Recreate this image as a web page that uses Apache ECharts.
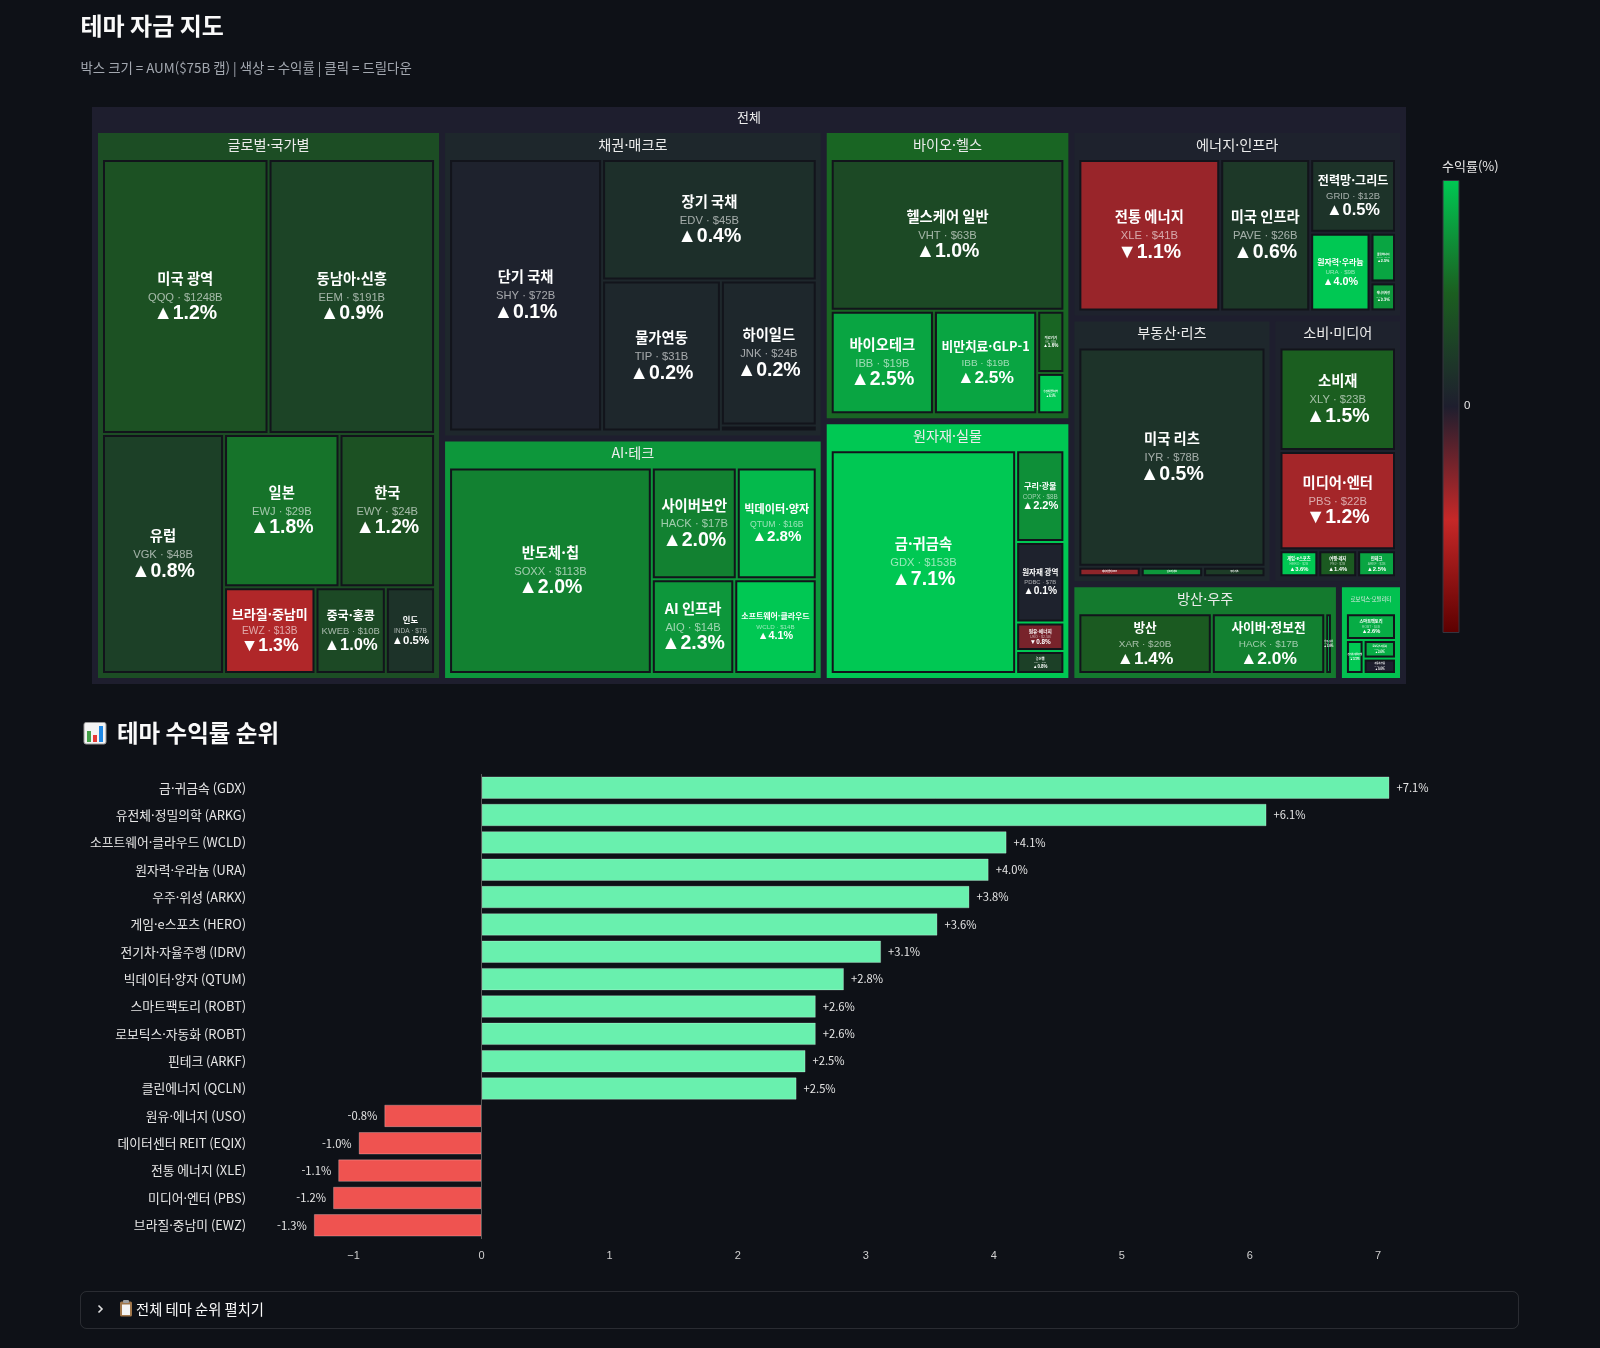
<!DOCTYPE html>
<html lang="ko">
<head>
<meta charset="UTF-8" />
<meta name="viewport" content="width=device-width, initial-scale=1" />
<title>테마 자금 지도</title>
<style>
  html, body { margin: 0; padding: 0; background: #0e1117; }
  #main { width: 1600px; height: 1348px; }
</style>
</head>
<body>
<div id="main"></div>
<script src="https://cdn.jsdelivr.net/npm/echarts@6/dist/echarts.min.js"></script>
<script>
  // --- 데이터 ---
  // 같은 크기인 칸은 뒤에 온 것이 먼저 놓이므로 순서를 거꾸로 둔다
  const AUM_CAP = 75;

  const sectorNames = ['글로벌·국가별', '채권·매크로', 'AI·테크', '바이오·헬스', '원자재·실물',
                       '에너지·인프라', '부동산·리츠', '소비·미디어', '방산·우주', '로보틱스·모빌리티'];
  const sectorReturns = [1.1, 0.2, 2.3, 1.6, 5.9, 0.1, 0.2, 0.1, 1.9, 2.9];
  const rootReturn = 0;

  const themeSector = [0, 0, 0, 0, 0, 0, 0, 0,
                       1, 1, 1, 1, 1,
                       2, 2, 2, 2, 2,
                       3, 3, 3, 3, 3,
                       4, 4, 4, 4, 4,
                       5, 5, 5, 5, 5, 5,
                       6, 6, 6, 6,
                       7, 7, 7, 7, 7,
                       8, 8, 8,
                       9, 9, 9, 9];
  const themeNames = ['동남아·신흥', '미국 광역', '유럽', '일본', '한국', '브라질·중남미', '중국·홍콩', '인도',
                      '단기 국채', '장기 국채', '물가연동', '하이일드', '달러 강세',
                      '반도체·칩', '사이버보안', '빅데이터·양자', '소프트웨어·클라우드', 'AI 인프라',
                      '헬스케어 일반', '비만치료·GLP-1', '바이오테크', '의료기기', '유전체·정밀의학',
                      '금·귀금속', '구리·광물', '원자재 광역', '원유·에너지', '농산물',
                      '전통 에너지', '미국 인프라', '전력망·그리드', '원자력·우라늄', '클린에너지', '에너지저장',
                      '미국 리츠', '주거 리츠', '인프라 리츠', '데이터센터 REIT',
                      '소비재', '미디어·엔터', '핀테크', '여행·레저', '게임·e스포츠',
                      '방산', '사이버·정보전', '우주·위성',
                      '스마트팩토리', '로보틱스·자동화', '전기차·자율주행', '자동차·부품'];
  const themeTickers = ['EEM', 'QQQ', 'VGK', 'EWJ', 'EWY', 'EWZ', 'KWEB', 'INDA',
                        'SHY', 'EDV', 'TIP', 'JNK', 'UUP',
                        'SOXX', 'HACK', 'QTUM', 'WCLD', 'AIQ',
                        'VHT', 'IBB', 'IBB', 'IHI', 'ARKG',
                        'GDX', 'COPX', 'PDBC', 'USO', 'DBA',
                        'XLE', 'PAVE', 'GRID', 'URA', 'QCLN', 'BATT',
                        'IYR', 'REZ', 'AMT', 'EQIX',
                        'XLY', 'PBS', 'ARKF', 'PEJ', 'HERO',
                        'XAR', 'HACK', 'ARKX',
                        'ROBT', 'ROBT', 'IDRV', 'CARZ'];
  const themeAum = [191, 1248, 48, 29, 24, 13, 10, 7,
                    72, 45, 31, 24, 1,
                    113, 17, 16, 14, 14,
                    63, 19, 19, 3, 2,
                    153, 8, 7, 2.5, 2,
                    41, 26, 12, 9, 2.4, 1.4,
                    78, 1.2, 1.2, 1.2,
                    23, 22, 2, 2, 2,
                    20, 17, 1,
                    4, 1.8, 1.8, 1.5];
  const themeReturns = [0.9, 1.2, 0.8, 1.8, 1.2, -1.3, 1.0, 0.5,
                        0.1, 0.4, 0.2, 0.2, -0.2,
                        2.0, 2.0, 2.8, 4.1, 2.3,
                        1.0, 2.5, 2.5, 1.6, 6.1,
                        7.1, 2.2, 0.1, -0.8, 0.8,
                        -1.1, 0.6, 0.5, 4.0, 2.5, 2.3,
                        0.5, 0.7, 2.3, -1.0,
                        1.5, -1.2, 2.5, 1.4, 3.6,
                        1.4, 2.0, 3.8,
                        2.6, 2.6, 3.1, 0.0];

  // 수익률 순위 (막대)
  const rankLabels = ['금·귀금속 (GDX)', '유전체·정밀의학 (ARKG)', '소프트웨어·클라우드 (WCLD)', '원자력·우라늄 (URA)',
                      '우주·위성 (ARKX)', '게임·e스포츠 (HERO)', '전기차·자율주행 (IDRV)', '빅데이터·양자 (QTUM)',
                      '스마트팩토리 (ROBT)', '로보틱스·자동화 (ROBT)', '핀테크 (ARKF)', '클린에너지 (QCLN)',
                      '원유·에너지 (USO)', '데이터센터 REIT (EQIX)', '전통 에너지 (XLE)', '미디어·엔터 (PBS)',
                      '브라질·중남미 (EWZ)'];
  const rankValues = [7.09, 6.13, 4.10, 3.96, 3.81, 3.56, 3.12, 2.83,
                      2.61, 2.61, 2.53, 2.46, -0.76, -0.96, -1.12, -1.16, -1.31];
  const rankTicks = [-1, 0, 1, 2, 3, 4, 5, 6, 7];

  // 색상 스케일 (수익률 -3 ~ +3 %)
  const retMin = -3, retMax = 3;
  const scaleColors = ['#5c0000', '#c62828', '#1e1e2e', '#1b5e20', '#00c853'];

  const KR = '"Noto Sans CJK KR", "Noto Sans", sans-serif';
  const EN = '"Liberation Sans", Arial, sans-serif';

  // 잎 글자 기본 크기
  const T_SIZE = 14.3, S_SIZE = 11.2, P_SIZE = 19.5;
  const T_LH = 24.5, S_LH = 14, P_LH = 18.5;
  const BLOCK_H = T_LH + S_LH + P_LH;

  function retColor(r) {
    const t = Math.max(0, Math.min(1, (r - retMin) / (retMax - retMin)));
    return echarts.color.lerp(t, scaleColors);
  }
  function pctText(r) {
    return (r < 0 ? '▼' : '▲') + Math.abs(r).toFixed(1) + '%';
  }
  function subText(i) {
    return themeTickers[i] + ' · $' + themeAum[i] + 'B';
  }

  // 글자 크기 맞추기용
  const ctx = document.createElement('canvas').getContext('2d');
  function textW(str, size, weight, family) {
    ctx.font = weight + ' ' + size + 'px ' + family;
    return ctx.measureText(str).width;
  }
  const leafScale = {};
  const leafPad = {};
  const headScale = {};

  function leafNode(i) {
    const key = themeNames[i];
    const s = leafScale[key] ?? 1;
    const c = retColor(themeReturns[i]);
    return {
      name: key,
      value: Math.min(themeAum[i], AUM_CAP),
      itemStyle: { color: c },
      label: {
        padding: [leafPad[key] ?? 0, 0, 0, 0],
        formatter: '{t|' + key + '}\n{s|' + subText(i) + '}\n{p|' + pctText(themeReturns[i]) + '}',
        rich: {
          t: { fontSize: T_SIZE * s, lineHeight: T_LH * s, fontWeight: 'bold', color: '#ffffff', fontFamily: KR },
          s: { fontSize: S_SIZE * s, lineHeight: S_LH * s, color: 'rgba(255,255,255,0.6)', fontFamily: EN },
          p: { fontSize: P_SIZE * s, lineHeight: P_LH * s, fontWeight: 'bold', color: '#ffffff', fontFamily: EN }
        }
      }
    };
  }

  function buildTree() {
    const sectors = sectorNames.map((name, k) => {
      const c = retColor(sectorReturns[k]);
      const hs = headScale[name] ?? 1;
      return {
        name: name,
        itemStyle: { color: c, borderColor: c },
        upperLabel: { fontSize: 14.2 * hs, offset: [0, -2] },
        children: themeNames.map((_, i) => i).filter(i => themeSector[i] === k).map(leafNode)
      };
    });
    const rc = retColor(rootReturn);
    return [{ name: '전체', itemStyle: { color: rc, borderColor: rc }, upperLabel: { fontSize: 13, offset: [0, -3] }, children: sectors }];
  }

  function buildOption() {
    const barData = rankValues.map(v => ({
      value: v,
      itemStyle: { color: v >= 0 ? '#69f0ae' : '#ef5350' },
      label: { position: v >= 0 ? 'right' : 'left' }
    }));

    const gradStops = scaleColors.slice().reverse().map((c, i, a) => ({ offset: i / (a.length - 1), color: c }));

    return {
      backgroundColor: '#0e1117',
      animation: false,
      textStyle: { fontFamily: KR },
      grid: { left: 225.5, right: 94, top: 774, height: 465 },
      xAxis: {
        type: 'value', min: -2, max: 8, interval: 1,
        splitLine: { show: false }, axisLine: { show: false }, axisTick: { show: false },
        axisLabel: {
          color: '#d0d0d0', fontSize: 11, margin: 11, fontFamily: EN,
          formatter: v => rankTicks.includes(v) ? (v < 0 ? '−' + Math.abs(v) : String(v)) : ''
        }
      },
      yAxis: {
        type: 'category', data: rankLabels, inverse: true,
        axisLine: { show: false }, axisTick: { show: false },
        axisLabel: { color: '#e6e6e6', fontSize: 12.8, margin: -20.5, interval: 0, fontFamily: KR }
      },
      series: [
        {
          type: 'treemap',
          left: 92, top: 107, width: 1314, height: 577,
          roam: false, nodeClick: false,
          squareRatio: 1,
          breadcrumb: { show: false },
          visibleMin: 0, childrenVisibleMin: 0,
          emphasis: { disabled: true },
          label: { show: true, position: 'inside', padding: 0, overflow: 'none' },
          upperLabel: { position: 'inside', color: '#ececec', fontFamily: KR, padding: 0, overflow: 'none' },
          levels: [
            { itemStyle: { borderWidth: 0, gapWidth: 0 } },
            { itemStyle: { borderWidth: 6, gapWidth: 6 }, upperLabel: { show: true, height: 26 } },
            { itemStyle: { borderWidth: 5, gapWidth: 2 }, upperLabel: { show: true, height: 27 } },
            { itemStyle: { borderWidth: 2, borderColor: '#12141b', gapWidth: 0 } }
          ],
          data: buildTree()
        },
        {
          type: 'bar',
          data: barData,
          barWidth: 22.5,
          itemStyle: { borderColor: 'rgba(255,255,255,0.25)', borderWidth: 1 },
          label: {
            show: true, color: '#e6e6e6', fontSize: 11.2, distance: 7, fontFamily: KR,
            formatter: p => (p.value > 0 ? '+' : '') + p.value.toFixed(1) + '%'
          },
          markLine: {
            silent: true, symbol: 'none', label: { show: false },
            lineStyle: { color: '#5a5a5a', type: 'solid', width: 1 },
            data: [{ xAxis: 0 }]
          }
        }
      ],
      graphic: [
        { type: 'text', x: 80.5, y: 25.5, style: { text: '테마 자금 지도', font: 'bold 24px ' + KR, fill: '#fafafa', textVerticalAlign: 'middle', verticalAlign: 'middle' } },
        { type: 'text', x: 80.5, y: 67.5, style: { text: '박스 크기 = AUM($75B 캡) | 색상 = 수익률 | 클릭 = 드릴다운', font: '13.4px ' + KR, fill: '#a3a8b0', textVerticalAlign: 'middle', verticalAlign: 'middle' } },

        // 컬러바
        { type: 'text', x: 1442, y: 166.5, style: { text: '수익률(%)', font: '13px ' + KR, fill: '#e6e6e6', textVerticalAlign: 'middle', verticalAlign: 'middle' } },
        { type: 'rect', shape: { x: 1443, y: 180.5, width: 16, height: 452 },
          style: { fill: new echarts.graphic.LinearGradient(0, 0, 0, 1, gradStops), stroke: '#34343f', lineWidth: 1 } },
        { type: 'text', x: 1464, y: 406, style: { text: '0', font: '11.5px ' + EN, fill: '#e6e6e6', textVerticalAlign: 'middle', verticalAlign: 'middle' } },

        // 수익률 순위 제목 + 아이콘
        { type: 'rect', shape: { x: 84, y: 722.5, width: 22, height: 21.5, r: 2 }, style: { fill: '#f4f4f4', stroke: '#9a9a9a', lineWidth: 1 } },
        { type: 'rect', shape: { x: 87, y: 731, width: 4, height: 11 }, style: { fill: '#43a047' } },
        { type: 'rect', shape: { x: 93, y: 735, width: 4, height: 7 }, style: { fill: '#e53935' } },
        { type: 'rect', shape: { x: 99, y: 726, width: 4, height: 16 }, style: { fill: '#1e88e5' } },
        { type: 'text', x: 117, y: 733, style: { text: '테마 수익률 순위', font: 'bold 23.5px ' + KR, fill: '#fafafa', textVerticalAlign: 'middle', verticalAlign: 'middle' } },

        // 펼치기 영역
        { type: 'rect', shape: { x: 80.5, y: 1291.5, width: 1438, height: 37, r: 6 }, style: { fill: 'transparent', stroke: 'rgba(250,250,250,0.12)', lineWidth: 1 } },
        { type: 'polyline', shape: { points: [[98.5, 1305.5], [102, 1309], [98.5, 1312.5]] }, style: { stroke: '#e0e0e0', lineWidth: 1.6, fill: null } },
        { type: 'rect', shape: { x: 120, y: 1301.5, width: 12, height: 15, r: 1.5 }, style: { fill: '#a0764a' } },
        { type: 'rect', shape: { x: 122, y: 1304.5, width: 8, height: 10.5 }, style: { fill: '#f4f4f4' } },
        { type: 'rect', shape: { x: 123, y: 1300, width: 6, height: 3, r: 1 }, style: { fill: '#9e9e9e' } },
        { type: 'text', x: 136, y: 1309.5, style: { text: '전체 테마 순위 펼치기', font: '14.3px ' + KR, fill: '#fafafa', textVerticalAlign: 'middle', verticalAlign: 'middle' } }
      ]
    };
  }

  const chart = echarts.init(document.getElementById('main'));
  chart.setOption(buildOption());

  // 트리맵 배치 결과를 보고 글자 크기와 세로 위치를 칸에 맞춘다
  try {
    const tree = chart.getModel().getSeriesByIndex(0).getData().tree;
    tree.root.eachNode(node => {
      const lay = node.getLayout();
      if (!lay || node.depth < 1) return;
      const bw = lay.borderWidth || 0;
      const w = lay.width - 2 * bw;
      const h = lay.height - 2 * bw;
      if (node.children && node.children.length) {
        const need = textW(node.name, 14.2, 'normal', KR);
        headScale[node.name] = Math.min(1, (w - 6) / need);
      } else {
        const i = themeNames.indexOf(node.name);
        if (i < 0) return;
        const need = Math.max(textW(themeNames[i], T_SIZE, 'bold', KR),
                              textW(subText(i), S_SIZE, 'normal', EN),
                              textW(pctText(themeReturns[i]), P_SIZE, 'bold', EN));
        const s = Math.max(0.15, Math.min(1, (w - 6) / need, (h - 4) / BLOCK_H));
        leafScale[node.name] = s;
        leafPad[node.name] = Math.max(0, (h - BLOCK_H * s) / 2 - 2 * s);
      }
    });
    chart.setOption(buildOption(), true);
  } catch (e) {
    console.error(e);
  }

  window.addEventListener('resize', () => chart.resize());
</script>
</body>
</html>
